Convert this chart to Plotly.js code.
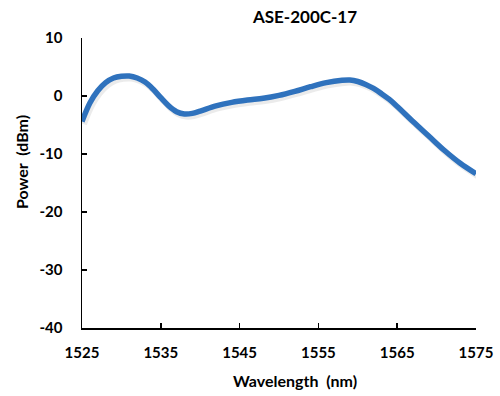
<!DOCTYPE html>
<html>
<head>
<meta charset="utf-8">
<script src="https://cdn.plot.ly/plotly-3.0.1.min.js"></script>
<style>html,body{margin:0;padding:0;background:#fff;}#chart{width:500px;height:396px;}</style>
</head>
<body>
<div id="chart"></div>
<script>
var chartTitle = "ASE-200C-17";
var xTitle = "Wavelength\u00a0 (nm)";
var yTitle = "Power\u00a0 (dBm)";
var wavelength = [1525,1526,1527,1528,1529,1530,1531,1532,1533,1534,1535,1536,1537,1538,1539,1540,1542,1544,1546,1548,1550,1552,1554,1556,1558,1559,1560,1561,1562,1563,1564,1565,1567,1569,1571,1573,1575];
var power = [-4.4,-1.2,0.9,2.3,3.1,3.4,3.45,3.1,2.4,1.2,-0.3,-1.7,-2.7,-3.1,-3.0,-2.6,-1.7,-1.1,-0.7,-0.4,0.1,0.8,1.6,2.3,2.7,2.75,2.5,2.0,1.3,0.4,-0.6,-1.8,-4.4,-6.9,-9.4,-11.6,-13.4];
var xTicks = [1525,1535,1545,1555,1565,1575];
var yTicks = [-40,-30,-20,-10,0,10];

var shadowX = wavelength.map(function(v){return v + 0.25;});
var shadowY = power.map(function(v){return v - 0.45;});

var fam = "Lato, 'Open Sans', sans-serif";
var tickFnt = {family: fam, size: 15, color: "#000"};

var traces = [
  {x: shadowX, y: shadowY, mode: "lines", line: {shape: "spline", color: "rgba(0,0,0,0.08)", width: 6}, hoverinfo: "skip", showlegend: false},
  {x: wavelength, y: power, mode: "lines", line: {shape: "spline", color: "#2f72bd", width: 5.5}, showlegend: false}
];

var layout = {
  width: 500, height: 396,
  margin: {l: 82, r: 24, t: 38, b: 68, pad: 0},
  paper_bgcolor: "#fff", plot_bgcolor: "#fff",
  showlegend: false,
  title: {text: "<b>" + chartTitle + "</b>", x: 283/500, xanchor: "center", xref: "paper", y: 1 - 17/396, yanchor: "middle", yref: "container", font: {family: fam, size: 17, color: "#000"}},
  xaxis: {range: [1525, 1575], tickvals: xTicks, ticktext: xTicks.map(function(v){return "<b>"+v+"</b>";}), ticks: "inside", ticklen: 5, tickwidth: 1.5, tickcolor: "#000", showline: true, linecolor: "#000", linewidth: 1.5, showgrid: false, zeroline: false, tickfont: tickFnt, ticklabelstandoff: 10, fixedrange: true},
  yaxis: {range: [-40, 10], tickvals: yTicks, ticktext: yTicks.map(function(v){return "<b>"+v+"</b>";}), ticks: "inside", ticklen: 5, tickwidth: 1.5, tickcolor: "#000", showline: true, linecolor: "#000", linewidth: 1.5, showgrid: false, zeroline: false, tickfont: tickFnt, ticklabelstandoff: 15, fixedrange: true},
  annotations: [
    {text: "<b>" + xTitle + "</b>", xref: "paper", yref: "paper", x: (295-82)/394, y: -(380-328)/290, xanchor: "center", yanchor: "middle", showarrow: false, font: {family: fam, size: 16, color: "#000"}},
    {text: "<b>" + yTitle + "</b>", xref: "paper", yref: "paper", x: -(82-21)/394, y: (328-162)/290, xanchor: "center", yanchor: "middle", textangle: -90, showarrow: false, font: {family: fam, size: 16, color: "#000"}}
  ]
};
Plotly.newPlot("chart", traces, layout, {displayModeBar: false, staticPlot: true});
</script>
</body>
</html>
